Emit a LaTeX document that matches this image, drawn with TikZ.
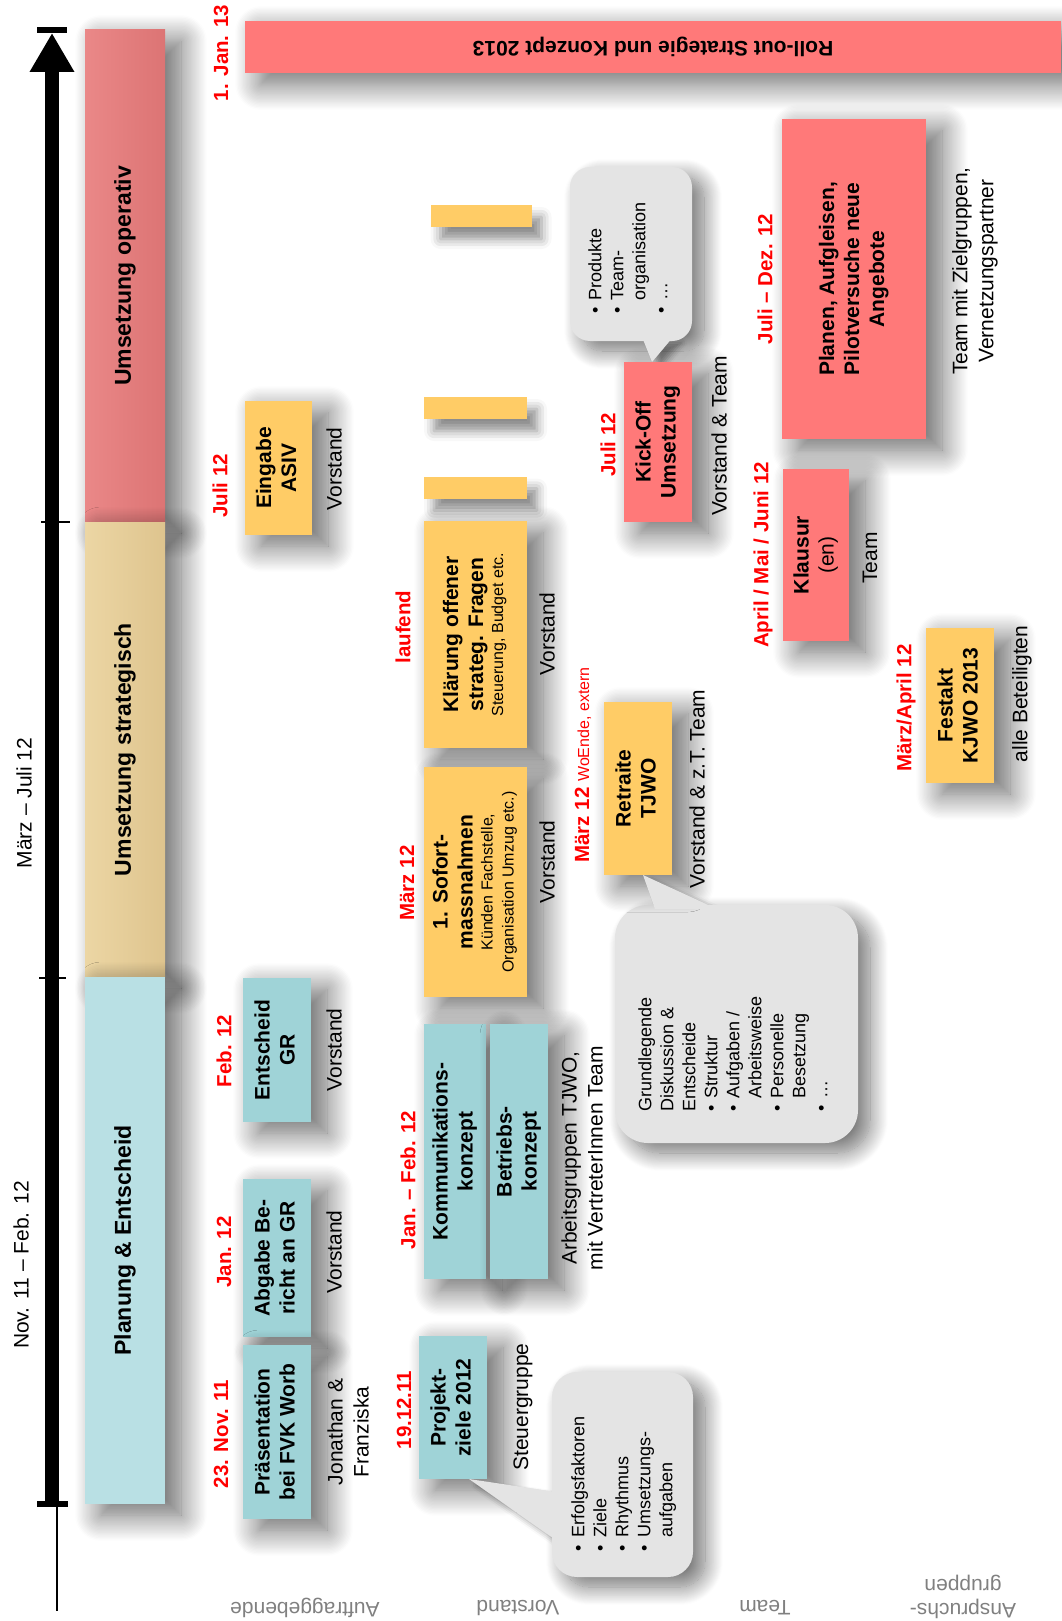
\documentclass[tikz,border=0pt]{standalone}
\usepackage{fontspec}
\setmainfont{Liberation Sans}
\usepackage{graphicx}
\usepackage{xcolor}
\usetikzlibrary{arrows.meta,positioning,calc,shadows.blur}
\definecolor{boxyel}{HTML}{FFCC66}
\definecolor{boxblu}{HTML}{9FD3D7}
\definecolor{boxred}{HTML}{FF7979}
\definecolor{bubgray}{HTML}{E4E4E4}
\definecolor{operl}{HTML}{EA8888}
\definecolor{operr}{HTML}{DC7474}
\definecolor{stratl}{HTML}{ECD6A4}
\definecolor{stratr}{HTML}{DEC48E}
\definecolor{planfill}{HTML}{B9E0E4}
\definecolor{datered}{HTML}{FF0000}
\definecolor{lanegray}{HTML}{808080}
\newcommand{\vlines}[1]{\rotatebox{90}{\begin{tabular}{@{}c@{}}#1\end{tabular}}}
\newcommand{\boxnote}{\fontsize{16}{20}\selectfont\mdseries}
\tikzset{
  shade box/.style={blur shadow={shadow xshift=16pt,shadow yshift=-11pt,
                    shadow blur radius=26pt,shadow blur steps=20,
                    shadow opacity=60}},
  shade bar/.style={blur shadow={shadow xshift=10pt,shadow yshift=-12pt,
                    shadow blur radius=10pt,shadow opacity=45}},
  shade bub/.style={blur shadow={shadow xshift=12pt,shadow yshift=-10pt,
                    shadow blur radius=18pt,shadow blur steps=20,
                    shadow opacity=55}},
  shade ptr/.style={blur shadow={shadow xshift=8pt,shadow yshift=-6pt,
                    shadow blur radius=6pt,shadow opacity=40}},
  card/.style={inner sep=0pt,shade box,
               font=\fontsize{21}{25}\selectfont\bfseries},
  yelcard/.style={card,fill=boxyel},
  blucard/.style={card,fill=boxblu},
  redcard/.style={card,fill=boxred},
  yelbar/.style={inner sep=0pt,fill=boxyel,shade bar},
  bubble/.style={fill=bubgray,shade bub,inner sep=0pt},
  bubtext/.style={inner sep=0pt,font=\fontsize{18}{22}\selectfont},
  datelbl/.style={rotate=90,inner sep=0pt,text=datered,
                  font=\fontsize{20.5}{24}\selectfont\bfseries},
  wholbl/.style={rotate=90,inner sep=0pt,align=center,
                 font=\fontsize{21}{26}\selectfont}
}

\begin{document}
\begin{tikzpicture}[x=1pt,y=-1pt,>=Latex,
   phase/.style={minimum width=80pt,inner sep=0pt,shade box,
                 font=\fontsize{23}{27}\selectfont\bfseries},
   lanelbl/.style={rotate=180,inner sep=0pt,align=center,text=lanegray,
                   font=\fontsize{21}{24}\selectfont},
   ptr/.style={fill=bubgray}]
  \useasboundingbox (0,0) rectangle (1061,1621);

  % Time axis
  \coordinate (tlow) at (52,1504);
  \coordinate (thigh) at (52,33);
  \coordinate (tjoin) at (57,1504);
  \coordinate (tfoot) at (57,1611);
  \draw[line width=14pt,-{Triangle[width=42pt,length=39pt]}] (tlow) -- (thigh);
  \draw[line width=6pt] ($(thigh)+(-15,-3)$) -- ($(thigh)+(15,-3)$);
  \draw[line width=6pt] ($(tlow)+(-15,0)$) -- ($(tlow)+(16,0)$);
  \draw[line width=1.5pt] (tjoin) -- (tfoot);
  \draw[line width=1.5pt] (41,522) -- (70,522);
  \draw[line width=1.5pt] (39,978) -- (66,978);
  \node[wholbl] (pstrat) at (24,803) {März – Juli 12};
  \node[wholbl] (pplan) at (21,1265) {Nov. 11 – Feb. 12};

  % Phases
  \node[phase,minimum height=492pt,left color=operl,right color=operr]
    (poper) at (125,276) {\rotatebox{90}{Umsetzung operativ}};
  \node[phase,minimum height=455pt,left color=stratl,right color=stratr]
    (pstr) at (125,749.5) {\rotatebox{90}{Umsetzung strategisch}};
  \node[phase,minimum height=527pt,fill=planfill]
    (pplanung) at (125,1240.5) {\rotatebox{90}{Planung \& Entscheid}};

  % Speech bubbles, drawn first so that the cards sit on top
  \coordinate (ka) at (642,337);
  \coordinate (kb) at (652,362);
  \coordinate (kc) at (673,337);
  \coordinate (ra) at (655,909);
  \coordinate (rb) at (643,875);
  \coordinate (rc) at (717,909);
  \coordinate (pa) at (556,1492);
  \coordinate (pb) at (469,1479);
  \coordinate (pc) at (556,1540);
  \fill[ptr,shade ptr] (ka) -- (kb) -- (kc) -- cycle;
  \fill[ptr,shade ptr] (ra) -- (rb) -- (rc) -- cycle;
  \fill[ptr,shade ptr] (pa) -- (pb) -- (pc) -- cycle;
  \node[bubble,minimum width=122pt,minimum height=174pt,rounded corners=20pt]
    (bubkick) at (631,254) {};
  \node[bubble,minimum width=243pt,minimum height=238pt,rounded corners=33pt]
    (bubretr) at (736.5,1024) {};
  \node[bubble,minimum width=141pt,minimum height=205pt,rounded corners=25pt]
    (bubproj) at (622.5,1474.5) {};

  % Roll-out banner
  \node[redcard,minimum width=816pt,minimum height=52pt] (rollout) at (653,47)
    {\rotatebox{180}{Roll-out Strategie und Konzept 2013}};
  \node[datelbl] (djan13) at (221,53) {1. Jan. 13};

  % Auftraggebende column
  \node[yelcard,minimum width=67pt,minimum height=134pt] (eingabe) at (278.5,468)
    {\vlines{Eingabe\\ASIV}};
  \node[blucard,minimum width=68pt,minimum height=144pt] (entscheid) at (277,1050)
    {\vlines{Entscheid\\GR}};
  \node[blucard,minimum width=68pt,minimum height=158pt] (abgabe) at (277,1258)
    {\vlines{Abgabe Be-\\richt an GR}};
  \node[blucard,minimum width=68pt,minimum height=174pt] (praes) at (277,1432)
    {\vlines{Präsentation\\bei FVK Worb}};
  \node[datelbl] (djuli) at (220,486) {Juli 12};
  \node[datelbl] (dfeb) at (224,1051) {Feb. 12};
  \node[datelbl] (djan) at (224,1252) {Jan. 12};
  \node[datelbl] (dnov) at (221,1434) {23. Nov. 11};
  \node[wholbl] (wein) at (334,469) {Vorstand};
  \node[wholbl] (went) at (334,1050) {Vorstand};
  \node[wholbl] (wabg) at (334,1252) {Vorstand};
  \node[wholbl] (wpraes) at (348,1432) {Jonathan \&\\Franziska};

  % Vorstand column
  \node[yelbar,minimum width=101pt,minimum height=22pt] (ybara) at (481,216) {};
  \node[yelbar,minimum width=103pt,minimum height=22pt] (ybarb) at (475.5,408) {};
  \node[yelbar,minimum width=103pt,minimum height=22pt] (ybarc) at (475.5,487.5) {};
  \node[yelcard,minimum width=103pt,minimum height=227pt] (klaerung) at (475.5,634.5)
    {\vlines{Klärung offener\\strateg. Fragen\\[-5pt]\boxnote Steuerung, Budget etc.}};
  \node[yelcard,minimum width=103pt,minimum height=230pt] (sofort) at (475.5,882)
    {\vlines{1. Sofort-\\massnahmen\\[-5pt]\boxnote Künden Fachstelle,\\[-4pt]
             \boxnote Organisation Umzug etc.)}};
  \node[blucard,minimum width=62pt,minimum height=255pt] (kommkonz) at (455,1151.5)
    {\vlines{Kommunikations-\\konzept}};
  \node[blucard,minimum width=58pt,minimum height=255pt] (betrkonz) at (519,1151.5)
    {\vlines{Betriebs-\\konzept}};
  \node[blucard,minimum width=68pt,minimum height=143pt] (projziele) at (453,1407.5)
    {\vlines{Projekt-\\ziele 2012}};
  \node[datelbl] (dlauf) at (403,627) {laufend};
  \node[datelbl] (dmaerz) at (407,883) {März 12};
  \node[datelbl] (djanfeb) at (408,1180) {Jan. – Feb. 12};
  \node[datelbl] (dproj) at (404,1410) {19.12.11};
  \node[wholbl] (wklaer) at (547,634) {Vorstand};
  \node[wholbl] (wsofort) at (547,862) {Vorstand};
  \node[wholbl] (wkonz) at (582,1158) {Arbeitsgruppen TJWO,\\mit VertreterInnen Team};
  \node[wholbl] (wproj) at (523,1407) {Steuergruppe};

  % Team column
  \node[redcard,minimum width=68pt,minimum height=160pt] (kickoff) at (658,442)
    {\vlines{Kick-Off\\Umsetzung}};
  \node[yelcard,minimum width=68pt,minimum height=173pt] (retraite) at (638,788.5)
    {\vlines{Retraite\\TJWO}};
  \node[redcard,minimum width=144pt,minimum height=320pt] (planen) at (854,279)
    {\vlines{Planen, Aufgleisen,\\Pilotversuche neue\\Angebote}};
  \node[redcard,minimum width=66pt,minimum height=172pt] (klausur) at (816,555)
    {\vlines{Klausur\\{\mdseries (en)}}};
  \node[yelcard,minimum width=68pt,minimum height=155pt] (festakt) at (960,705.5)
    {\vlines{Festakt\\KJWO 2013}};
  \node[datelbl] (dkick) at (608,445) {Juli 12};
  \node[datelbl] (dretr) at (583,765)
    {März 12 {\fontsize{16}{19}\selectfont\mdseries WoEnde, extern}};
  \node[datelbl] (djulidez) at (765,279) {Juli – Dez. 12};
  \node[datelbl] (dklaus) at (763,555) {April / Mai / Juni 12};
  \node[datelbl] (dfest) at (906,708) {März/April 12};
  \node[wholbl] (wkick) at (719,436) {Vorstand \& Team};
  \node[wholbl] (wretr) at (697,789) {Vorstand \& z.T. Team};
  \node[wholbl] (wplanen) at (975,271) {Team mit Zielgruppen,\\Vernetzungspartner};
  \node[wholbl] (wklaus) at (870,558) {Team};
  \node[wholbl] (wfest) at (1022,694) {alle Beteiligten};

  % Bubble pointers and texts
  \fill[ptr] (ka) -- (kb) -- (kc) -- cycle;
  \fill[ptr] (ra) -- (rb) -- (rc) -- cycle;
  \fill[ptr] (pa) -- (pb) -- (pc) -- cycle;
  \node[bubtext] (bubkicktxt) at (630,258) {\rotatebox{90}{%
    \begin{tabular}{@{}l@{\hspace{7pt}}l@{}}
      \textbullet & Produkte\\
      \textbullet & Team-\\
                  & organisation\\
      \textbullet & \dots
    \end{tabular}}};
  \node[bubtext] (bubretrtxt) at (735,1054) {\rotatebox{90}{%
    \begin{tabular}{@{}l@{\hspace{7pt}}l@{}}
      \multicolumn{2}{@{}l@{}}{Grundlegende}\\
      \multicolumn{2}{@{}l@{}}{Diskussion \&}\\
      \multicolumn{2}{@{}l@{}}{Entscheide}\\
      \textbullet & Struktur\\
      \textbullet & Aufgaben /\\
                  & Arbeitsweise\\
      \textbullet & Personelle\\
                  & Besetzung\\
      \textbullet & \dots
    \end{tabular}}};
  \node[bubtext] (bubprojtxt) at (624,1484) {\rotatebox{90}{%
    \begin{tabular}{@{}l@{\hspace{7pt}}l@{}}
      \textbullet & Erfolgsfaktoren\\
      \textbullet & Ziele\\
      \textbullet & Rhythmus\\
      \textbullet & Umsetzungs-\\
                  & aufgaben
    \end{tabular}}};

  % Lanes
  \node[lanelbl] (lauftr) at (305,1608) {Auftraggebende};
  \node[lanelbl] (lvorst) at (518,1608) {Vorstand};
  \node[lanelbl] (lteam) at (765,1608) {Team};
  \node[lanelbl] (lansp) at (963,1597) {Anspruchs-\\gruppen};
\end{tikzpicture}
\end{document}
